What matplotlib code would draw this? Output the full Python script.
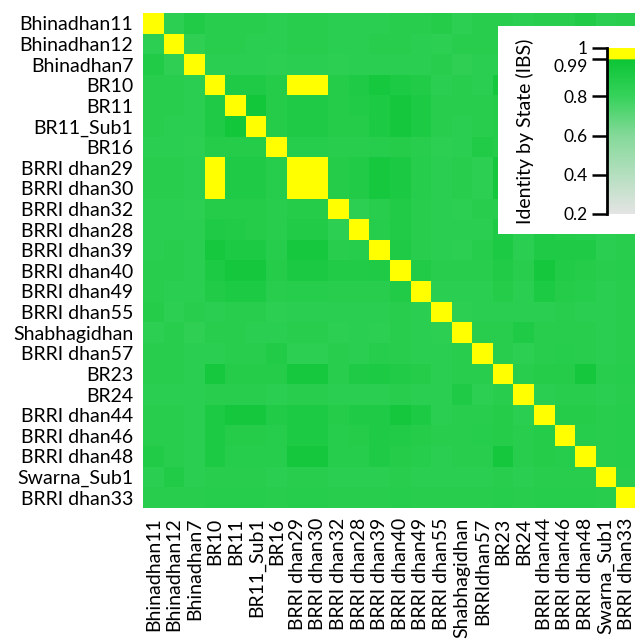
import numpy as np
import matplotlib
matplotlib.use("Agg")
import matplotlib.pyplot as plt
from matplotlib.colors import LinearSegmentedColormap, FuncNorm

plt.rcParams['font.family'] = ['Lato', 'DejaVu Sans']

# cultivar names (rows top->bottom, columns left->right)
row_labels = ['Bhinadhan11', 'Bhinadhan12', 'Bhinadhan7', 'BR10', 'BR11', 'BR11_Sub1',
              'BR16', 'BRRI dhan29', 'BRRI dhan30', 'BRRI dhan32', 'BRRI dhan28',
              'BRRI dhan39', 'BRRI dhan40', 'BRRI dhan49', 'BRRI dhan55', 'Shabhagidhan',
              'BRRI dhan57', 'BR23', 'BR24', 'BRRI dhan44', 'BRRI dhan46', 'BRRI dhan48',
              'Swarna_Sub1', 'BRRI dhan33']
col_labels = ['Bhinadhan11', 'Bhinadhan12', 'Bhinadhan7', 'BR10', 'BR11', 'BR11_Sub1',
              'BR16', 'BRRI dhan29', 'BRRI dhan30', 'BRRI dhan32', 'BRRI dhan28',
              'BRRI dhan39', 'BRRI dhan40', 'BRRI dhan49', 'BRRI dhan55', 'Shabhagidhan',
              'BRRIdhan57', 'BR23', 'BR24', 'BRRI dhan44', 'BRRI dhan46', 'BRRI dhan48',
              'Swarna_Sub1', 'BRRI dhan33']

# IBS values, lower triangle (row i holds columns 0..i-1)
ibs_lower = [
    [],
    [.84],
    [.89, .83],
    [.86, .86, .85],
    [.86, .86, .85, .90],
    [.86, .85, .85, .90, .96],
    [.85, .85, .84, .88, .88, .88],
    [.86, .86, .85, 1.0, .90, .90, .87],
    [.86, .86, .85, 1.0, .90, .90, .87, 1.0],
    [.85, .85, .84, .88, .88, .88, .86, .88, .88],
    [.85, .85, .85, .90, .89, .88, .86, .89, .89, .84],
    [.85, .86, .85, .94, .91, .91, .87, .94, .94, .86, .87],
    [.86, .86, .85, .91, .95, .95, .88, .92, .92, .89, .89, .90],
    [.86, .85, .85, .89, .91, .91, .86, .87, .87, .86, .86, .86, .89],
    [.88, .84, .86, .85, .86, .86, .84, .85, .85, .85, .85, .85, .86, .85],
    [.84, .86, .83, .86, .86, .85, .85, .86, .86, .84, .85, .84, .86, .85, .84],
    [.86, .86, .85, .85, .86, .86, .89, .84, .84, .86, .85, .87, .86, .85, .85, .86],
    [.86, .86, .85, .94, .88, .88, .88, .94, .94, .86, .90, .91, .89, .88, .85, .86, .86],
    [.85, .85, .85, .86, .86, .86, .85, .86, .86, .85, .85, .85, .86, .85, .85, .90, .84, .86],
    [.86, .86, .85, .91, .95, .95, .89, .91, .91, .88, .90, .90, .95, .91, .85, .86, .86, .88, .85],
    [.86, .86, .85, .91, .88, .88, .87, .91, .91, .87, .88, .90, .89, .88, .86, .86, .87, .88, .86, .88],
    [.89, .86, .85, .91, .87, .87, .87, .95, .95, .87, .87, .90, .88, .87, .85, .86, .86, .95, .86, .88, .87],
    [.85, .89, .85, .86, .86, .86, .85, .86, .86, .85, .85, .85, .86, .85, .85, .85, .85, .86, .85, .86, .86, .86],
    [.86, .86, .86, .87, .87, .87, .86, .87, .87, .86, .86, .86, .87, .86, .86, .86, .86, .87, .86, .87, .87, .87, .86],
]

cbar_ticks = [0.2, 0.4, 0.6, 0.8, 0.99, 1.0]
cbar_ticklabels = ['0.2', '0.4', '0.6', '0.8', '0.99', '1']

n = len(row_labels)
mat = np.ones((n, n))
for i, row in enumerate(ibs_lower):
    for j, v in enumerate(row):
        mat[i, j] = v
        mat[j, i] = v

# stretched colour scale: 0.99-1 gets its own yellow band
def fwd(v):
    return np.interp(v, [0.2, 0.99, 1.0], [0.0, 0.933, 1.0])

def inv(u):
    return np.interp(u, [0.0, 0.933, 1.0], [0.2, 0.99, 1.0])

norm = FuncNorm((fwd, inv), vmin=0.2, vmax=1.0)
cmap = LinearSegmentedColormap.from_list('ibs', [
    (0.0, '#e4e4e4'),
    (float(fwd(0.6)), '#84d999'),
    (float(fwd(0.8)), '#36d25b'),
    (0.933, '#0cc535'),
    (0.934, '#ffff00'),
    (1.0, '#ffff00'),
])

fig = plt.figure(figsize=(6.35, 6.39), dpi=100)
ax = fig.add_axes([143 / 635, 131 / 639, 494 / 635, 495 / 639])
im = ax.imshow(mat, cmap=cmap, norm=norm, aspect='auto', interpolation='nearest')
ax.set_xticks(range(n))
ax.set_xticklabels(col_labels, rotation=90, fontsize=14)
ax.set_yticks(range(n))
ax.set_yticklabels(row_labels, fontsize=14)
ax.tick_params(length=0, pad=7)
for s in ax.spines.values():
    s.set_visible(False)

# white box behind the colour key
box = fig.add_axes([498 / 635, (639 - 234) / 639, 0.3, 208 / 639])
box.set_facecolor('white')
box.set_xticks([])
box.set_yticks([])
for s in box.spines.values():
    s.set_visible(False)
box.set_zorder(1)

cax = fig.add_axes([607 / 635, (639 - 214) / 639, 0.08, 166 / 639])
cax.set_zorder(2)
cb = fig.colorbar(im, cax=cax, ticks=cbar_ticks)
cb.set_ticklabels(cbar_ticklabels)
cb.outline.set_visible(False)
cax.yaxis.set_ticks_position('left')
cax.yaxis.set_label_position('left')
cax.spines['left'].set_visible(True)
cax.spines['left'].set_linewidth(2)
cax.tick_params(length=11, width=1.8, labelsize=12.5, pad=3)
# 0.99 label sits just under its tick so it clears the "1"
cax.get_yticklabels()[4].set_va('top')
cb.set_label('Identity by State (IBS)', fontsize=14, labelpad=14)

plt.savefig('out.png', dpi=100)
